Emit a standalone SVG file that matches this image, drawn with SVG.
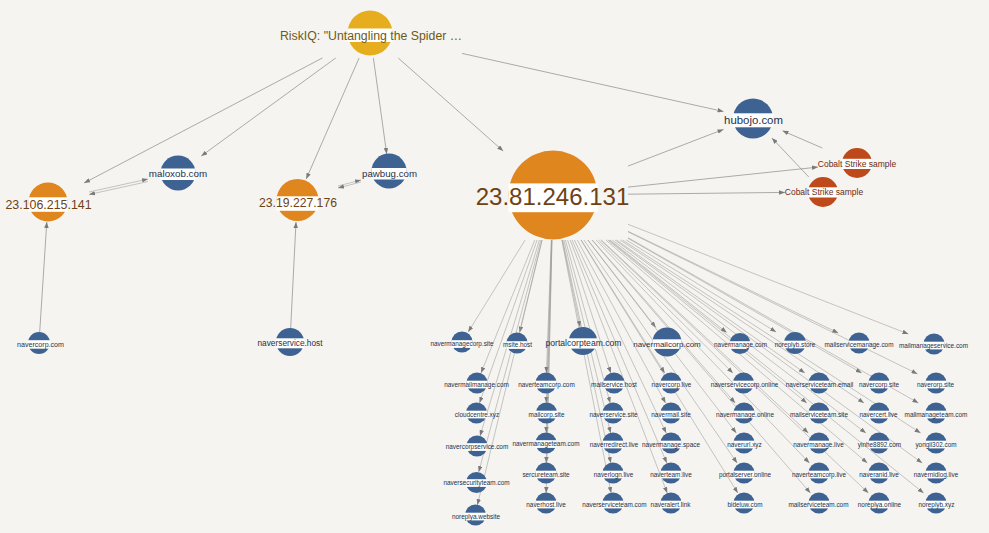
<svg xmlns="http://www.w3.org/2000/svg" width="989" height="533" viewBox="0 0 989 533">
<style>
text{font-family:"Liberation Sans",Arial,sans-serif;text-anchor:middle}
.bg{fill:#f5f4f0}
.band{fill:#ffffff}
.blue circle{fill:#3e6292}
.blue text{fill:#25314a}
.orange circle{fill:#e0861f}
.orange text{fill:#6e4214}
.yellow circle{fill:#e6ad1f}
.yellow text{fill:#6f5a14}
.red circle{fill:#be4a1b}
.red text{fill:#6e2a10}
.s text{font-size:6.4px}
#connectors line{stroke:#8a8a8a;stroke-width:0.7;fill:none;marker-end:url(#arr)}
#connectors .fan line{stroke:#9b9b9b;stroke-width:0.55}
#connectors .pair line{stroke:#b5b5b5;stroke-width:0.8}
</style>
<defs>
<marker id="arr" viewBox="0 0 8 6" refX="8" refY="3" markerWidth="6" markerHeight="4.5" markerUnits="userSpaceOnUse" orient="auto">
<path d="M0,0 L8,3 L0,6 z" fill="#7a7a7a"/>
</marker>
</defs>
<rect class="bg" x="0" y="0" width="989" height="533"/>

<g id="connectors">
<line x1="322.4" y1="58" x2="84.1" y2="183"/>
<line x1="335.7" y1="58" x2="201.3" y2="156"/>
<line x1="359.1" y1="58" x2="306.2" y2="179"/>
<line x1="373.4" y1="58" x2="386.7" y2="154"/>
<line x1="398.2" y1="58" x2="503.2" y2="151"/>
<line x1="462" y1="53.4" x2="723.5" y2="111.5"/>
<line x1="628" y1="166.1" x2="723.5" y2="129.4"/>
<line x1="628" y1="187.1" x2="818" y2="167.1"/>
<line x1="628" y1="194.2" x2="785" y2="192.4"/>
<line x1="822.3" y1="148" x2="782.5" y2="130.8"/>
<line x1="808.8" y1="177" x2="771.9" y2="138"/>
<line x1="39.7" y1="332" x2="46.8" y2="222"/>
<line x1="290.7" y1="328" x2="296" y2="222"/>
<g class="pair">
<line x1="89" y1="192" x2="148" y2="179"/>
<line x1="148" y1="181.5" x2="89" y2="194.5"/>
<line x1="338" y1="186" x2="361" y2="180"/>
<line x1="361" y1="182" x2="338" y2="188"/>
</g>
<g class="fan">
<line x1="525.1" y1="240" x2="468.2" y2="332"/>
<line x1="542.1" y1="240" x2="519.6" y2="332.5"/>
<line x1="562.2" y1="240" x2="580.1" y2="327"/>
<line x1="587.9" y1="240" x2="655.8" y2="327.5"/>
<line x1="609.9" y1="240" x2="726.7" y2="332.5"/>
<line x1="626.3" y1="240" x2="776.1" y2="332"/>
<line x1="628" y1="231.3" x2="838.3" y2="333"/>
<line x1="628" y1="224.3" x2="908.4" y2="334"/>
<line x1="534.8" y1="240" x2="481" y2="373"/>
<line x1="551.3" y1="240" x2="546.4" y2="373"/>
<line x1="567.6" y1="240" x2="610.8" y2="373"/>
<line x1="581.2" y1="240" x2="664.7" y2="373"/>
<line x1="598.4" y1="240" x2="732.9" y2="373"/>
<line x1="616.6" y1="240" x2="804.8" y2="373"/>
<line x1="628" y1="238.3" x2="861.7" y2="373"/>
<line x1="628" y1="231.8" x2="917.5" y2="373.9"/>
<line x1="537.1" y1="240" x2="479.5" y2="403"/>
<line x1="551.6" y1="240" x2="546.3" y2="403"/>
<line x1="565.4" y1="240" x2="610.2" y2="403"/>
<line x1="577.3" y1="240" x2="665.6" y2="403"/>
<line x1="592.4" y1="240" x2="735.2" y2="403"/>
<line x1="607.8" y1="240" x2="806.8" y2="403"/>
<line x1="620.2" y1="240" x2="864" y2="403"/>
<line x1="628" y1="237.7" x2="918.4" y2="403"/>
<line x1="539.4" y1="240" x2="480" y2="436"/>
<line x1="551.7" y1="240" x2="546.3" y2="433"/>
<line x1="563.9" y1="240" x2="610.6" y2="433"/>
<line x1="574.4" y1="240" x2="666.2" y2="433"/>
<line x1="587.7" y1="240" x2="736.3" y2="433"/>
<line x1="601.3" y1="240" x2="808.3" y2="433"/>
<line x1="612.2" y1="240" x2="865.9" y2="433"/>
<line x1="622.5" y1="240" x2="920.6" y2="433"/>
<line x1="540.9" y1="240" x2="478.7" y2="472"/>
<line x1="551.9" y1="240" x2="546.3" y2="463"/>
<line x1="562.7" y1="240" x2="610.8" y2="463"/>
<line x1="572.1" y1="240" x2="666.8" y2="463"/>
<line x1="583.9" y1="240" x2="737.1" y2="463"/>
<line x1="596.1" y1="240" x2="809.4" y2="463"/>
<line x1="605.8" y1="240" x2="867.3" y2="463"/>
<line x1="615" y1="240" x2="922.2" y2="463"/>
<line x1="542" y1="240" x2="477.4" y2="505"/>
<line x1="552" y1="240" x2="546.2" y2="493"/>
<line x1="561.8" y1="240" x2="611.1" y2="493"/>
<line x1="570.2" y1="240" x2="667.2" y2="493"/>
<line x1="580.9" y1="240" x2="737.8" y2="493"/>
<line x1="591.9" y1="240" x2="810.4" y2="493"/>
<line x1="600.6" y1="240" x2="868.4" y2="493"/>
<line x1="609" y1="240" x2="923.6" y2="493"/>
</g>
</g>

<g id="riskiq" class="yellow"><circle cx="370" cy="33" r="22.5"/><rect class="band" x="347.5" y="28.5" width="45" height="13.5"/><text x="371" y="39.5" font-size="12.3">RiskIQ: "Untangling the Spider …</text></g>
<g id="ip-23-106-215-141" class="orange"><circle cx="48" cy="202" r="19.5"/><rect class="band" x="28.5" y="197.3" width="39" height="14.5"/><text x="48.5" y="208.5" font-size="12.4">23.106.215.141</text></g>
<g id="maloxob" class="blue"><circle cx="178" cy="173" r="17.5"/><rect class="band" x="160.5" y="168.5" width="35" height="11.5"/><text x="178" y="177.3" font-size="9.8">maloxob.com</text></g>
<g id="ip-23-19-227-176" class="orange"><circle cx="297.5" cy="200" r="21"/><rect class="band" x="276.5" y="196.3" width="42" height="14.5"/><text x="298" y="207.3" font-size="12.2">23.19.227.176</text></g>
<g id="pawbug" class="blue"><circle cx="389" cy="171" r="17.5"/><rect class="band" x="371.5" y="168" width="35" height="11.5"/><text x="389.5" y="176.7" font-size="9.7">pawbug.com</text></g>
<g id="hubojo" class="blue"><circle cx="753" cy="118.5" r="20"/><rect class="band" x="733" y="113.3" width="40" height="14"/><text x="753.5" y="124.3" font-size="11.4">hubojo.com</text></g>
<g id="cobalt-1" class="red"><circle cx="857" cy="163" r="15"/><rect class="band" x="842" y="158.8" width="30" height="10.2"/><text x="857" y="166.5" font-size="8.5">Cobalt Strike sample</text></g>
<g id="cobalt-2" class="red"><circle cx="823" cy="192" r="15"/><rect class="band" x="808" y="187.3" width="30" height="10.2"/><text x="824" y="195" font-size="8.5">Cobalt Strike sample</text></g>
<g id="ip-23-81-246-131" class="orange"><circle cx="553" cy="195" r="44.5"/><rect class="band" x="508.5" y="183.4" width="89" height="28.8"/><text x="552.5" y="205" font-size="24">23.81.246.131</text></g>
<g id="navercorp-com" class="blue"><circle cx="39" cy="343" r="11"/><rect class="band" x="28" y="340.2" width="22" height="8.5"/><text x="40.5" y="346.5" font-size="7.1">navercorp.com</text></g>
<g id="naverservice-host" class="blue"><circle cx="290" cy="342" r="14"/><rect class="band" x="276" y="338.3" width="28" height="10"/><text x="290" y="345.8" font-size="8.3">naverservice.host</text></g>

<g id="navermanagecorp-site" class="blue s"><circle cx="462" cy="342" r="10.5"/><rect class="band" x="451.5" y="340.2" width="21" height="7.7"/><text x="462" y="346">navermanagecorp.site</text></g>
<g id="msite-host" class="blue s"><circle cx="517" cy="343" r="10.5"/><rect class="band" x="506.5" y="341.2" width="21" height="7.7"/><text x="517.5" y="347">msite.host</text></g>
<g id="portalcorpteam-com" class="blue"><circle cx="583" cy="341" r="14"/><rect class="band" x="569" y="338.3" width="28" height="10.3"/><text x="583.5" y="346.3" font-size="8.6">portalcorpteam.com</text></g>
<g id="navermailcorp-com" class="blue"><circle cx="667" cy="342" r="14.5"/><rect class="band" x="652.5" y="339.3" width="29" height="9.6"/><text x="667" y="346.5" font-size="8">navermailcorp.com</text></g>
<g id="navermanage-com" class="blue s"><circle cx="740" cy="343.5" r="10.5"/><rect class="band" x="729.5" y="341.2" width="21" height="7.7"/><text x="740.5" y="347">navermanage.com</text></g>
<g id="noreplyb-store" class="blue s"><circle cx="795" cy="343" r="11"/><rect class="band" x="784" y="340.7" width="22" height="7.7"/><text x="795" y="346.5">noreplyb.store</text></g>
<g id="mailservicemanage-com" class="blue s"><circle cx="859" cy="343" r="10.5"/><rect class="band" x="848.5" y="340.7" width="21" height="7.7"/><text x="859" y="346.5">mailservicemanage.com</text></g>
<g id="mailmanageservice-com" class="blue s"><circle cx="934" cy="344" r="10.5"/><rect class="band" x="923.5" y="341.7" width="21" height="7.7"/><text x="933.5" y="347.5">mailmanageservice.com</text></g>

<g id="navermailmanage-com" class="blue s"><circle cx="477" cy="383" r="10.5"/><rect class="band" x="466.5" y="380.7" width="21" height="7.7"/><text x="476.5" y="386.5">navermailmanage.com</text></g>
<g id="naverteamcorp-com" class="blue s"><circle cx="546" cy="383" r="10.5"/><rect class="band" x="535.5" y="380.7" width="21" height="7.7"/><text x="546.5" y="386.5">naverteamcorp.com</text></g>
<g id="mailservice-host" class="blue s"><circle cx="614" cy="383" r="10.5"/><rect class="band" x="603.5" y="380.7" width="21" height="7.7"/><text x="614" y="386.5">mailservice.host</text></g>
<g id="navercorp-live" class="blue s"><circle cx="671" cy="383" r="10.5"/><rect class="band" x="660.5" y="380.7" width="21" height="7.7"/><text x="671.5" y="386.5">navercorp.live</text></g>
<g id="naverservicecorp-online" class="blue s"><circle cx="743.5" cy="383" r="10.5"/><rect class="band" x="733" y="380.7" width="21" height="7.7"/><text x="744.5" y="386.5">naverservicecorp.online</text></g>
<g id="naverserviceteam-email" class="blue s"><circle cx="819" cy="383" r="10.5"/><rect class="band" x="808.5" y="380.7" width="21" height="7.7"/><text x="819.5" y="386.5">naverserviceteam.email</text></g>
<g id="navercorp-site" class="blue s"><circle cx="879" cy="383" r="10.5"/><rect class="band" x="868.5" y="380.7" width="21" height="7.7"/><text x="879" y="386.5">navercorp.site</text></g>
<g id="naverorp-site" class="blue s"><circle cx="936" cy="383" r="10.5"/><rect class="band" x="925.5" y="380.7" width="21" height="7.7"/><text x="935.5" y="386.5">naverorp.site</text></g>

<g id="cloudcentre-xyz" class="blue s"><circle cx="476.5" cy="413" r="10.5"/><rect class="band" x="466" y="410.7" width="21" height="7.7"/><text x="477" y="416.5">cloudcentre.xyz</text></g>
<g id="mailcorp-site" class="blue s"><circle cx="546.5" cy="413" r="10.5"/><rect class="band" x="536" y="410.7" width="21" height="7.7"/><text x="546.5" y="416.5">mailcorp.site</text></g>
<g id="naverservice-site" class="blue s"><circle cx="613" cy="413" r="10.5"/><rect class="band" x="602.5" y="410.7" width="21" height="7.7"/><text x="613.5" y="416.5">naverservice.site</text></g>
<g id="navermail-site" class="blue s"><circle cx="671" cy="413" r="10.5"/><rect class="band" x="660.5" y="410.7" width="21" height="7.7"/><text x="671" y="416.5">navermail.site</text></g>
<g id="navermanage-online" class="blue s"><circle cx="744" cy="413" r="10.5"/><rect class="band" x="733.5" y="410.7" width="21" height="7.7"/><text x="745" y="416.5">navermanage.online</text></g>
<g id="mailserviceteam-site" class="blue s"><circle cx="819" cy="413" r="10.5"/><rect class="band" x="808.5" y="410.7" width="21" height="7.7"/><text x="819" y="416.5">mailserviceteam.site</text></g>
<g id="navercert-live" class="blue s"><circle cx="879" cy="413" r="10.5"/><rect class="band" x="868.5" y="410.7" width="21" height="7.7"/><text x="878.5" y="416.5">navercert.live</text></g>
<g id="mailmanageteam-com" class="blue s"><circle cx="936" cy="413" r="10.5"/><rect class="band" x="925.5" y="410.7" width="21" height="7.7"/><text x="936" y="416.5">mailmanageteam.com</text></g>

<g id="navercorpservice-com" class="blue s"><circle cx="477" cy="446" r="10.5"/><rect class="band" x="466.5" y="443.2" width="21" height="7.7"/><text x="477" y="449">navercorpservice.com</text></g>
<g id="navermanageteam-com" class="blue s"><circle cx="546" cy="443" r="10.5"/><rect class="band" x="535.5" y="440.2" width="21" height="7.7"/><text x="546" y="446">navermanageteam.com</text></g>
<g id="naverredirect-live" class="blue s"><circle cx="613" cy="443" r="10.5"/><rect class="band" x="602.5" y="440.7" width="21" height="7.7"/><text x="614" y="446.5">naverredirect.live</text></g>
<g id="navermanage-space" class="blue s"><circle cx="671" cy="443" r="10.5"/><rect class="band" x="660.5" y="440.7" width="21" height="7.7"/><text x="671" y="446.5">navermanage.space</text></g>
<g id="naverurl-xyz" class="blue s"><circle cx="744" cy="443" r="10.5"/><rect class="band" x="733.5" y="440.7" width="21" height="7.7"/><text x="744.5" y="446.5">naverurl.xyz</text></g>
<g id="navermanage-live" class="blue s"><circle cx="819" cy="443" r="10.5"/><rect class="band" x="808.5" y="440.7" width="21" height="7.7"/><text x="818.5" y="446.5">navermanage.live</text></g>
<g id="yinhe8892-com" class="blue s"><circle cx="879" cy="443" r="10.5"/><rect class="band" x="868.5" y="440.7" width="21" height="7.7"/><text x="879.5" y="446.5">yinhe8892.com</text></g>
<g id="yongli302-com" class="blue s"><circle cx="936" cy="443" r="10.5"/><rect class="band" x="925.5" y="440.7" width="21" height="7.7"/><text x="936" y="446.5">yongli302.com</text></g>

<g id="naversecurityteam-com" class="blue s"><circle cx="476.5" cy="482.5" r="10.5"/><rect class="band" x="466" y="479.2" width="21" height="7.7"/><text x="476.5" y="485">naversecurityteam.com</text></g>
<g id="sercureteam-site" class="blue s"><circle cx="546" cy="473" r="10.5"/><rect class="band" x="535.5" y="470.7" width="21" height="7.7"/><text x="546" y="476.5">sercureteam.site</text></g>
<g id="naverlogn-live" class="blue s"><circle cx="613" cy="473" r="10.5"/><rect class="band" x="602.5" y="470.7" width="21" height="7.7"/><text x="613.5" y="476.5">naverlogn.live</text></g>
<g id="naverteam-live" class="blue s"><circle cx="671" cy="473" r="10.5"/><rect class="band" x="660.5" y="470.7" width="21" height="7.7"/><text x="671" y="476.5">naverteam.live</text></g>
<g id="portalserver-online" class="blue s"><circle cx="744" cy="473" r="10.5"/><rect class="band" x="733.5" y="470.7" width="21" height="7.7"/><text x="745" y="476.5">portalserver.online</text></g>
<g id="naverteamcorp-live" class="blue s"><circle cx="819" cy="473" r="10.5"/><rect class="band" x="808.5" y="470.7" width="21" height="7.7"/><text x="819" y="476.5">naverteamcorp.live</text></g>
<g id="naveranid-live" class="blue s"><circle cx="879" cy="473" r="10.5"/><rect class="band" x="868.5" y="470.7" width="21" height="7.7"/><text x="879" y="476.5">naveranid.live</text></g>
<g id="navernidlog-live" class="blue s"><circle cx="936" cy="473" r="10.5"/><rect class="band" x="925.5" y="470.7" width="21" height="7.7"/><text x="936" y="476.5">navernidlog.live</text></g>

<g id="noreplya-website" class="blue s"><circle cx="475.5" cy="515" r="10.5"/><rect class="band" x="465" y="512.7" width="21" height="7.7"/><text x="476" y="518.5">noreplya.website</text></g>
<g id="naverhost-live" class="blue s"><circle cx="546" cy="503" r="10.5"/><rect class="band" x="535.5" y="500.7" width="21" height="7.7"/><text x="546" y="506.5">naverhost.live</text></g>
<g id="naverserviceteam-com" class="blue s"><circle cx="613" cy="503" r="10.5"/><rect class="band" x="602.5" y="500.7" width="21" height="7.7"/><text x="614.5" y="506.5">naverserviceteam.com</text></g>
<g id="naveralert-link" class="blue s"><circle cx="671" cy="503" r="10.5"/><rect class="band" x="660.5" y="500.7" width="21" height="7.7"/><text x="670.5" y="506.5">naveralert.link</text></g>
<g id="bideluw-com" class="blue s"><circle cx="744" cy="503" r="10.5"/><rect class="band" x="733.5" y="500.7" width="21" height="7.7"/><text x="745" y="506.5">bideluw.com</text></g>
<g id="mailserviceteam-com" class="blue s"><circle cx="819" cy="503" r="10.5"/><rect class="band" x="808.5" y="500.7" width="21" height="7.7"/><text x="818.5" y="506.5">mailserviceteam.com</text></g>
<g id="noreplya-online" class="blue s"><circle cx="879" cy="503" r="10.5"/><rect class="band" x="868.5" y="500.7" width="21" height="7.7"/><text x="879.5" y="506.5">noreplya.online</text></g>
<g id="noreplyb-xyz" class="blue s"><circle cx="936" cy="503" r="10.5"/><rect class="band" x="925.5" y="500.7" width="21" height="7.7"/><text x="936.5" y="506.5">noreplyb.xyz</text></g>
</svg>
